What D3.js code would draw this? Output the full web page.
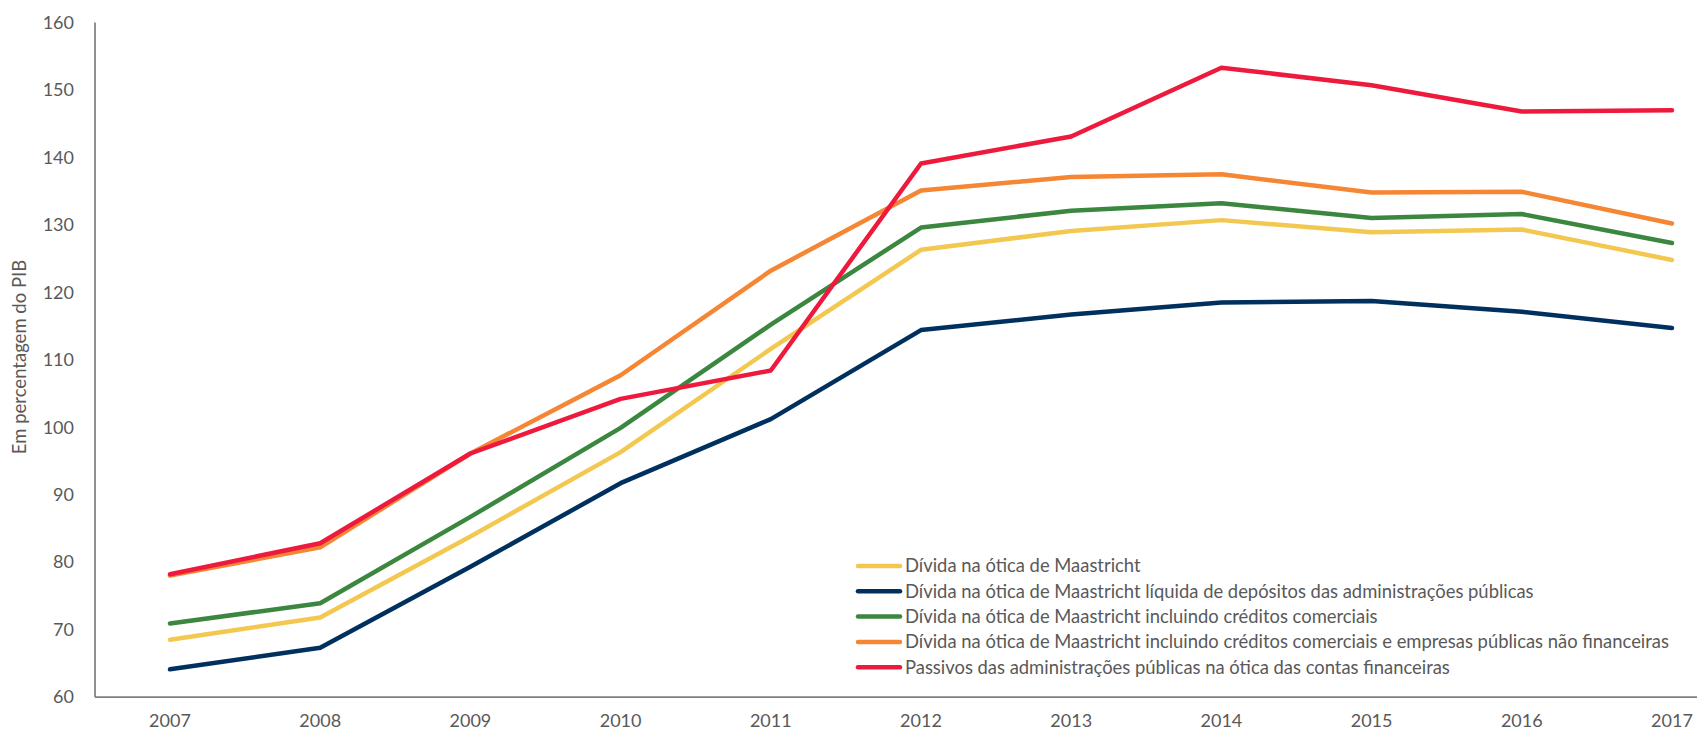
<!DOCTYPE html>
<html>
<head>
<meta charset="utf-8">
<script src="https://cdn.jsdelivr.net/npm/d3@7"></script>
<style>
  body { margin: 0; background: #fff; }
  svg { display: block; font-family: Lato, "Open Sans", sans-serif; }
  .tick-label { fill: #595959; font-size: 18px; }
  .axis-title { fill: #595959; font-size: 18.5px; }
  .legend text { fill: #595959; font-size: 18.4px; }
</style>
</head>
<body>
<script>
var width = 1697,
    height = 732;

// data (em percentagem do PIB)
var years = [2007, 2008, 2009, 2010, 2011, 2012, 2013, 2014, 2015, 2016, 2017];
var yTicks = [60, 70, 80, 90, 100, 110, 120, 130, 140, 150, 160];

var seriesNames = [
    "Dívida na ótica de Maastricht",
    "Dívida na ótica de Maastricht líquida de depósitos das administrações públicas",
    "Dívida na ótica de Maastricht incluindo créditos comerciais",
    "Dívida na ótica de Maastricht incluindo créditos comerciais e empresas públicas não financeiras",
    "Passivos das administrações públicas na ótica das contas financeiras"
];
var seriesColors = ["#F3C851", "#00305E", "#3B873F", "#F58634", "#EE1A3E"];

var maastricht = [68.5, 71.8, 83.8, 96.3, 111.6, 126.3, 129.1, 130.7, 128.9, 129.3, 124.8];
var maastrichtLiquida = [64.1, 67.3, 79.3, 91.7, 101.2, 114.4, 116.7, 118.5, 118.7, 117.1, 114.7];
var creditosComerciais = [70.9, 73.9, 86.7, 99.9, 115.2, 129.6, 132.1, 133.2, 131.0, 131.6, 127.3];
var creditosEmpresas = [78.0, 82.2, 96.1, 107.7, 123.2, 135.1, 137.1, 137.5, 134.8, 134.9, 130.2];
var passivos = [78.2, 82.8, 96.1, 104.2, 108.4, 139.1, 143.1, 153.3, 150.7, 146.8, 147.0];

var allSeries = [maastricht, maastrichtLiquida, creditosComerciais, creditosEmpresas, passivos];

var svg = d3.select("body")
    .append("svg")
    .attr("width", width)
    .attr("height", height);

var x = d3.scalePoint()
    .domain(years)
    .range([170, 1672]);

var y = d3.scaleLinear()
    .domain([60, 160])
    .range([697, 22.5]);

// axis lines
svg.append("line")
    .attr("x1", 95).attr("x2", 95)
    .attr("y1", y(160)).attr("y2", y(60))
    .attr("stroke", "#808080")
    .attr("stroke-width", 1.75);

svg.append("line")
    .attr("x1", 95).attr("x2", width)
    .attr("y1", y(60)).attr("y2", y(60))
    .attr("stroke", "#808080")
    .attr("stroke-width", 1.75);

// tick labels
svg.append("g")
    .selectAll("text")
    .data(yTicks)
    .enter().append("text")
    .attr("class", "tick-label")
    .attr("x", 74)
    .attr("y", function (d) { return y(d); })
    .attr("dy", "0.35em")
    .attr("text-anchor", "end")
    .text(function (d) { return d; });

svg.append("g")
    .selectAll("text")
    .data(years)
    .enter().append("text")
    .attr("class", "tick-label")
    .attr("x", function (d) { return x(d); })
    .attr("y", 721)
    .attr("dy", "0.35em")
    .attr("text-anchor", "middle")
    .text(function (d) { return d; });

svg.append("text")
    .attr("class", "axis-title")
    .attr("transform", "translate(20," + 357 + ") rotate(-90)")
    .attr("dy", "0.35em")
    .attr("text-anchor", "middle")
    .text("Em percentagem do PIB");

// lines
var line = d3.line()
    .x(function (d, i) { return x(years[i]); })
    .y(function (d) { return y(d); });

svg.append("g")
    .selectAll("path")
    .data(allSeries)
    .enter().append("path")
    .attr("d", line)
    .attr("fill", "none")
    .attr("stroke", function (d, i) { return seriesColors[i]; })
    .attr("stroke-width", 4.5)
    .attr("stroke-linejoin", "round")
    .attr("stroke-linecap", "round");

// legend
var legend = svg.append("g")
    .attr("class", "legend")
    .selectAll("g")
    .data(seriesNames)
    .enter().append("g")
    .attr("transform", function (d, i) { return "translate(858," + (566 + i * 25.3) + ")"; });

legend.append("line")
    .attr("x1", 0).attr("x2", 42)
    .attr("stroke", function (d, i) { return seriesColors[i]; })
    .attr("stroke-width", 4.5)
    .attr("stroke-linecap", "round");

legend.append("text")
    .attr("x", 47)
    .attr("dy", "0.35em")
    .text(function (d) { return d; });
</script>
</body>
</html>
